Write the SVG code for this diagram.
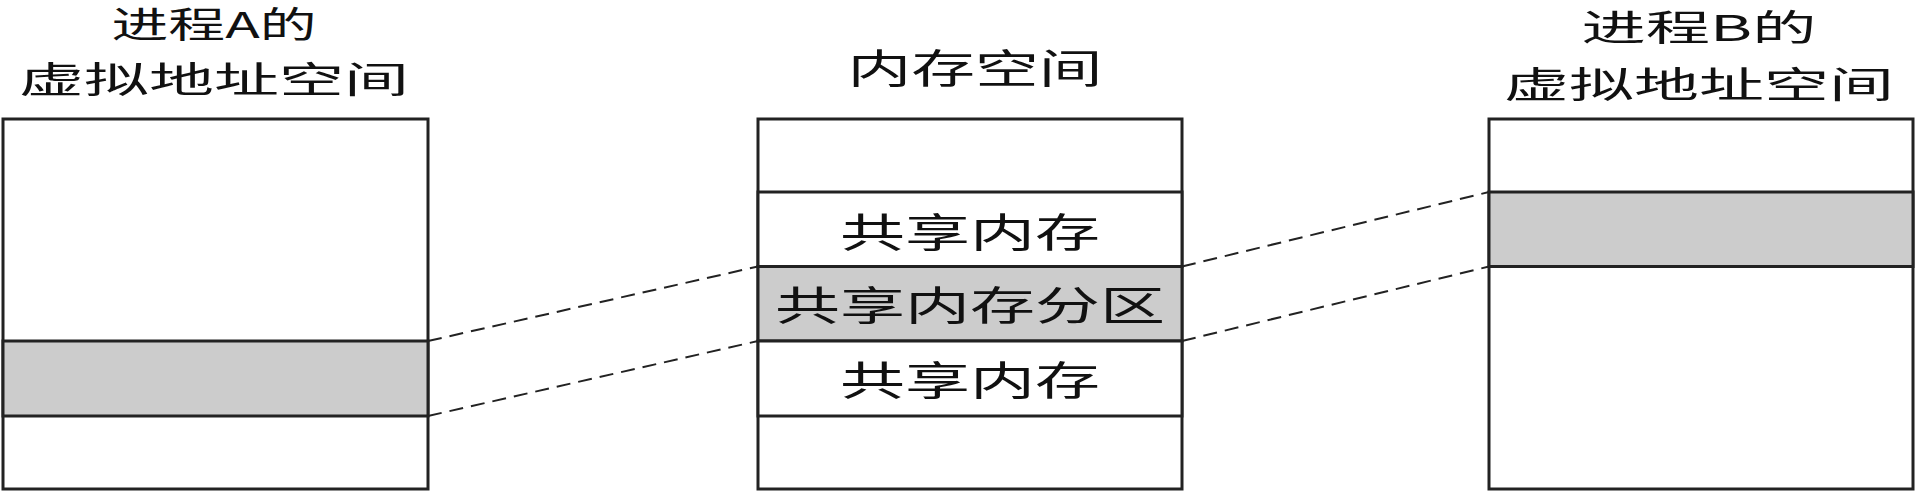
<svg xmlns="http://www.w3.org/2000/svg" width="1917" height="492" viewBox="0 0 1917 492">
<style>
.b{fill:#fff;stroke:#222;stroke-width:3}
.g{fill:#cccccc;stroke:#222;stroke-width:3}
.t{font-family:"Noto Sans CJK SC","Liberation Serif",sans-serif;font-size:40px;fill:#111;text-anchor:middle}
.h{font-size:36px}
.d{stroke:#222;stroke-width:2;stroke-dasharray:14,8;fill:none}
</style>
<rect width="1917" height="492" fill="#fff"/>
<g id="procA">
<rect class="b" x="3" y="119" width="425" height="370"/>
<rect class="g" x="3" y="341" width="425" height="75"/>
<text class="t h" x="214" y="38" textLength="205" lengthAdjust="spacingAndGlyphs">进程A的</text>
<text class="t h" x="214" y="93" textLength="390" lengthAdjust="spacingAndGlyphs">虚拟地址空间</text>
</g>
<g id="memory">
<rect class="b" x="758" y="119" width="424" height="370"/>
<rect class="b" x="758" y="192" width="424" height="74.5"/>
<rect class="g" x="758" y="266.5" width="424" height="74.5"/>
<rect class="b" x="758" y="341" width="424" height="75"/>
<text class="t" x="975" y="83" textLength="255" lengthAdjust="spacingAndGlyphs">内存空间</text>
<text class="t" x="970" y="247" textLength="260" lengthAdjust="spacingAndGlyphs">共享内存</text>
<text class="t" x="970" y="320" textLength="390" lengthAdjust="spacingAndGlyphs">共享内存分区</text>
<text class="t" x="970" y="395" textLength="260" lengthAdjust="spacingAndGlyphs">共享内存</text>
</g>
<g id="procB">
<rect class="b" x="1489" y="119" width="424" height="370"/>
<rect class="g" x="1489" y="192" width="424" height="74.5"/>
<text class="t h" x="1699" y="41" textLength="235" lengthAdjust="spacingAndGlyphs">进程B的</text>
<text class="t h" x="1699" y="98" textLength="390" lengthAdjust="spacingAndGlyphs">虚拟地址空间</text>
</g>
<g id="connectors">
<line class="d" x1="428" y1="341" x2="758" y2="266.5"/>
<line class="d" x1="428" y1="416" x2="758" y2="341"/>
<line class="d" x1="1182" y1="266.5" x2="1489" y2="192"/>
<line class="d" x1="1182" y1="341" x2="1489" y2="266.5"/>
</g>
</svg>
